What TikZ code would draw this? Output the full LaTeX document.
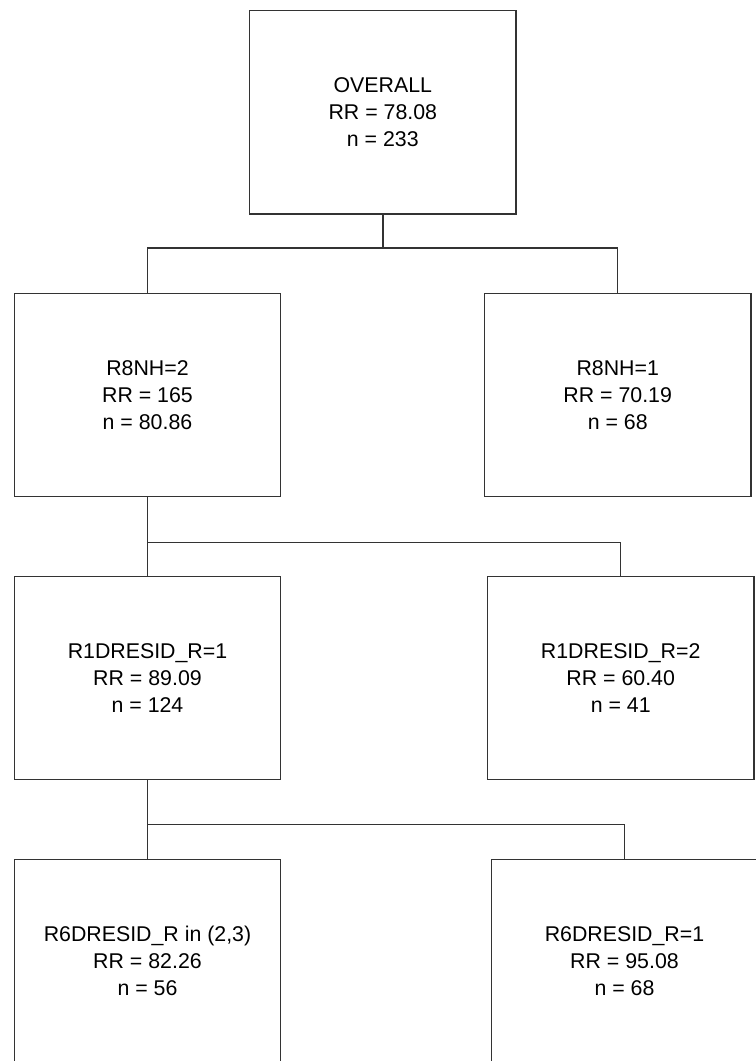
\documentclass[tikz,border=0pt]{standalone}
\usepackage{fontspec}
\setmainfont{Liberation Sans}
\usetikzlibrary{positioning,calc}

\begin{document}
\begin{tikzpicture}[x=0.75pt, y=-0.75pt,
        leaf/.style = {draw=black!80, line width=1.1pt, minimum width=199.7pt,
                       minimum height=152.6pt, inner sep=0pt, align=center,
                       font=\fontsize{16}{20.3}\selectfont},
        link/.style = {draw=black!80, line width=1.1pt}]
          	 \useasboundingbox (0,0) rectangle (756,1061);

          	 % nodes of the tree
          	 \node[leaf] (overall) at (382.8,112.3) {OVERALL\\RR = 78.08\\n = 233};
          	 \node[leaf] (rnhtwo) at (147.5,395) {R8NH=2\\RR = 165\\n = 80.86};
          	 \node[leaf] (rnhone) at (617.7,395) {R8NH=1\\RR = 70.19\\n = 68};
          	 \node[leaf] (rdone) at (147.5,678) {R1DRESID\_R=1\\RR = 89.09\\n = 124};
          	 \node[leaf] (rdtwo) at (620.7,678) {R1DRESID\_R=2\\RR = 60.40\\n = 41};
          	 \node[leaf] (rsixa) at (147.5,961) {R6DRESID\_R in (2,3)\\RR = 82.26\\n = 56};
          	 \node[leaf] (rsixb) at (624.5,961) {R6DRESID\_R=1\\RR = 95.08\\n = 68};

          	 % split points
          	 \coordinate (splita) at (382.8,248);
          	 \coordinate (splitb) at (147.5,542.3);
          	 \coordinate (splitc) at (147.5,824.3);

             \draw[link] (overall.south) -- (splita);
             \draw[link] (rnhtwo.north) |- (splita) -| (rnhone.north);
          	 \draw[link] (rnhtwo.south) -- (rdone.north);
          	 \draw[link] (splitb) -| (rdtwo.north);
          	 \draw[link] (rdone.south) -- (rsixa.north);
          	 \draw[link] (splitc) -| (rsixb.north);
        \end{tikzpicture}
\end{document}
